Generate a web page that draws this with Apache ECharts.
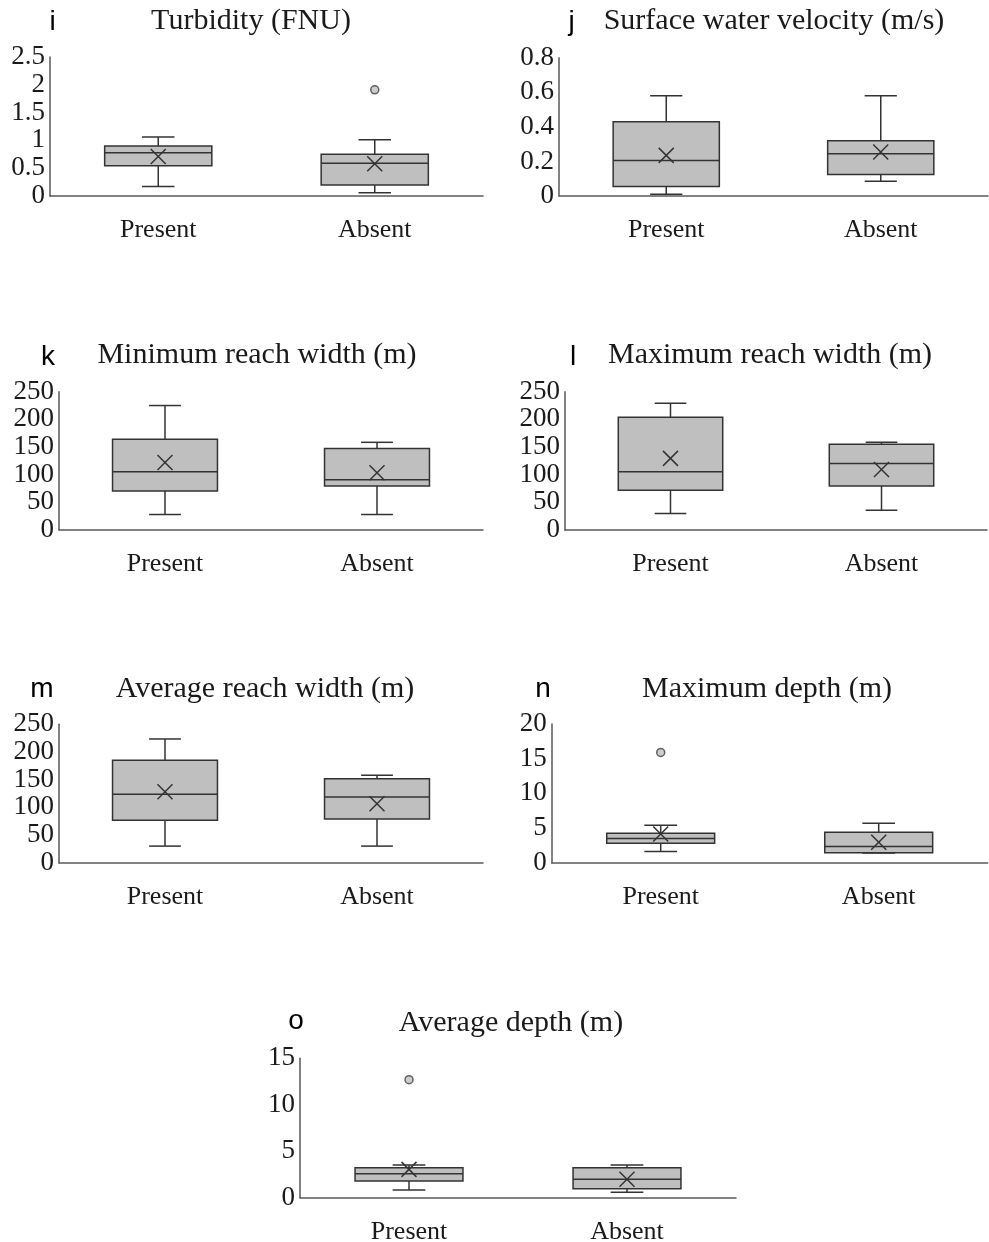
<!DOCTYPE html>
<html><head><meta charset="utf-8">
<script src="https://cdn.jsdelivr.net/npm/echarts@6/dist/echarts.min.js"></script>
<style>html,body{margin:0;padding:0;background:#fff}#c{width:989px;height:1242px}</style>
</head><body><div id="c"></div>
<script>
// ---------- data ----------
const categories = ['Present', 'Absent'];
// each row: [low whisker, Q1, median, Q3, high whisker, mean]
const turbidity = [[0.17, 0.545, 0.78, 0.9, 1.06, 0.71], [0.06, 0.2, 0.59, 0.75, 1.01, 0.58]];
const turbidityOutliers = [[1, 1.91]];
const velocity = [[0.01, 0.055, 0.205, 0.43, 0.58, 0.235], [0.085, 0.125, 0.245, 0.32, 0.58, 0.255]];
const velocityOutliers = [];
const minWidth = [[28, 70.5, 105.5, 164, 225, 122], [28, 79.5, 91, 147.5, 158.5, 103.5]];
const minWidthOutliers = [];
const maxWidth = [[30, 72, 105.5, 204, 229, 129.5], [35.5, 79.5, 120, 155, 158.5, 109.5]];
const maxWidthOutliers = [];
const avgWidth = [[30, 76.5, 123.5, 185, 223.5, 128], [30, 79, 118.5, 151.5, 158, 106.5]];
const avgWidthOutliers = [];
const maxDepth = [[1.6, 2.8, 3.5, 4.25, 5.4, 4.15], [1.4, 1.45, 2.35, 4.4, 5.7, 2.95]];
const maxDepthOutliers = [[0, 15.9]];
const avgDepth = [[0.83, 1.8, 2.58, 3.23, 3.52, 3.05], [0.58, 0.97, 1.98, 3.23, 3.52, 1.98]];
const avgDepthOutliers = [[0, 12.7]];

const panelLetters = ['i', 'j', 'k', 'l', 'm', 'n', 'o'];
const panelTitles = ['Turbidity (FNU)', 'Surface water velocity (m/s)', 'Minimum reach width (m)',
  'Maximum reach width (m)', 'Average reach width (m)', 'Maximum depth (m)', 'Average depth (m)'];
const yMax = [2.5, 0.8, 250, 250, 250, 20, 15];
const yInterval = [0.5, 0.2, 50, 50, 50, 5, 5];
const panelData = [turbidity, velocity, minWidth, maxWidth, avgWidth, maxDepth, avgDepth];
const panelOutliers = [turbidityOutliers, velocityOutliers, minWidthOutliers, maxWidthOutliers,
  avgWidthOutliers, maxDepthOutliers, avgDepthOutliers];

// ---------- layout ----------
const grids = [
  {left: 50, top: 57, width: 433, height: 139},
  {left: 559, top: 57.7, width: 429, height: 138.3},
  {left: 59, top: 391.7, width: 424, height: 138.3},
  {left: 565, top: 391.7, width: 422, height: 138.3},
  {left: 59, top: 724.3, width: 424, height: 138.4},
  {left: 551.7, top: 724, width: 436, height: 138.7},
  {left: 300, top: 1058.3, width: 436, height: 139.4}
];
const titlePos = [[251, 21.3], [774, 21.3], [257, 354.7], [770, 354.7], [265, 689], [767, 689], [511, 1023]];
const letterPos = [[52.5, 22.2], [571.5, 22.2], [48, 357.5], [573, 357.5], [42, 689.5], [543, 689.5], [296, 1021.5]];

const SERIF = '"Liberation Serif", "Times New Roman", serif';
const SANS = '"Liberation Sans", Arial, sans-serif';
const DARK = '#333333';

function renderBox(params, api) {
  const xi = api.value(0);
  const low = api.coord([xi, api.value(1)]);
  const q1 = api.coord([xi, api.value(2)]);
  const med = api.coord([xi, api.value(3)]);
  const q3 = api.coord([xi, api.value(4)]);
  const high = api.coord([xi, api.value(5)]);
  const mean = api.coord([xi, api.value(6)]);
  const band = api.size([1, 0])[0];
  const bw = band * 0.495, cw = band * 0.15, mk = 7.5;
  const cx = low[0];
  const ls = {stroke: DARK, lineWidth: 1.5};
  return {type: 'group', children: [
    {type: 'line', shape: {x1: cx, y1: high[1], x2: cx, y2: q3[1]}, style: ls},
    {type: 'line', shape: {x1: cx - cw / 2, y1: high[1], x2: cx + cw / 2, y2: high[1]}, style: ls},
    {type: 'line', shape: {x1: cx, y1: q1[1], x2: cx, y2: low[1]}, style: ls},
    {type: 'line', shape: {x1: cx - cw / 2, y1: low[1], x2: cx + cw / 2, y2: low[1]}, style: ls},
    {type: 'rect', shape: {x: cx - bw / 2, y: q3[1], width: bw, height: q1[1] - q3[1]},
      style: {fill: '#bfbfbf', stroke: DARK, lineWidth: 1.5}},
    {type: 'line', shape: {x1: cx - bw / 2, y1: med[1], x2: cx + bw / 2, y2: med[1]}, style: ls},
    {type: 'line', shape: {x1: cx - mk, y1: mean[1] - mk, x2: cx + mk, y2: mean[1] + mk}, style: ls},
    {type: 'line', shape: {x1: cx - mk, y1: mean[1] + mk, x2: cx + mk, y2: mean[1] - mk}, style: ls}
  ]};
}

const option = {
  animation: false,
  backgroundColor: '#ffffff',
  grid: [], xAxis: [], yAxis: [], series: [], graphic: []
};

for (let p = 0; p < 7; p++) {
  const g = grids[p];
  option.grid.push({left: g.left, top: g.top, width: g.width, height: g.height,
    containLabel: false, outerBoundsMode: 'none'});
  option.xAxis.push({
    type: 'category', gridIndex: p, data: categories, boundaryGap: true,
    axisLine: {show: true, lineStyle: {color: '#595959', width: 1.5}},
    axisTick: {show: false}, splitLine: {show: false},
    axisLabel: {show: true, margin: 21, color: '#1a1a1a', fontSize: 26, fontFamily: SERIF}
  });
  option.yAxis.push({
    type: 'value', gridIndex: p, min: 0, max: yMax[p], interval: yInterval[p],
    axisLine: {show: true, lineStyle: {color: '#595959', width: 1.5}},
    axisTick: {show: false}, splitLine: {show: false},
    axisLabel: {show: true, margin: 5, color: '#1a1a1a', fontSize: 27, fontFamily: SERIF}
  });
  option.series.push({
    type: 'custom', xAxisIndex: p, yAxisIndex: p, renderItem: renderBox,
    encode: {x: 0, y: [1, 2, 3, 4, 5, 6]},
    data: panelData[p].map((row, i) => [i].concat(row)), z: 2
  });
  option.series.push({
    type: 'scatter', xAxisIndex: p, yAxisIndex: p, symbol: 'circle', symbolSize: 8,
    itemStyle: {color: '#bfbfbf', borderColor: '#404040', borderWidth: 1.5},
    data: panelOutliers[p], z: 3
  });
  option.graphic.push({type: 'text', x: titlePos[p][0], y: titlePos[p][1],
    style: {text: panelTitles[p], font: '30px ' + SERIF, fill: '#1a1a1a', textAlign: 'center', textVerticalAlign: 'middle'}});
  option.graphic.push({type: 'text', x: letterPos[p][0], y: letterPos[p][1],
    style: {text: panelLetters[p], font: '28px ' + SANS, fill: '#000000', textAlign: 'center', textVerticalAlign: 'middle'}});
}

const chart = echarts.init(document.getElementById('c'), null, {renderer: 'canvas'});
chart.setOption(option);
</script>
</body></html>
